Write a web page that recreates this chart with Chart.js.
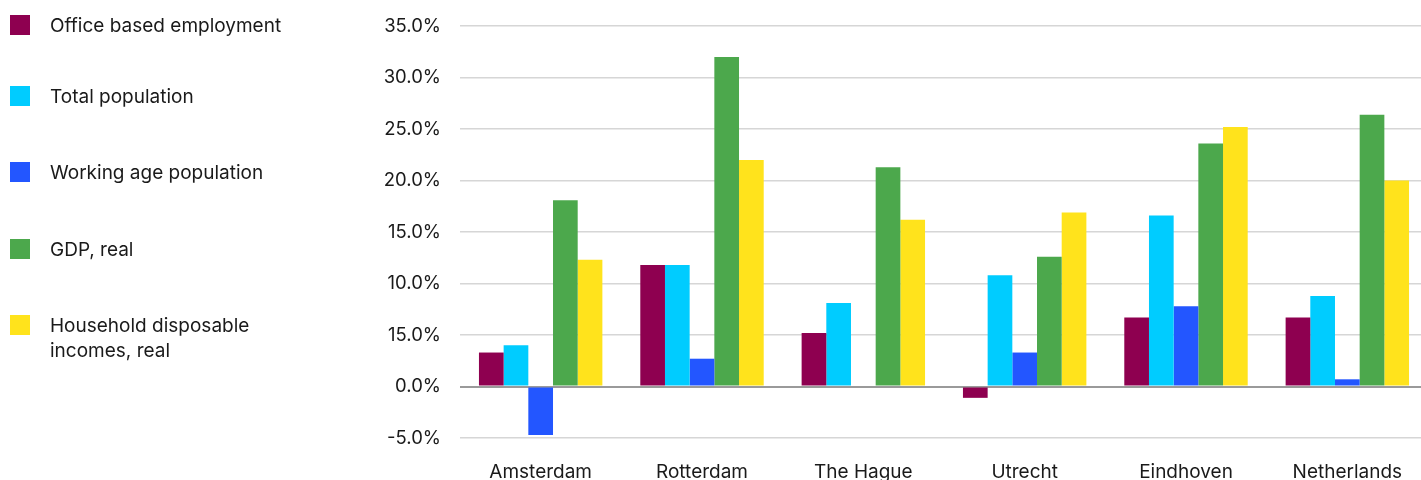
<!DOCTYPE html>
<html>
<head>
<meta charset="utf-8">
<script src="https://cdn.jsdelivr.net/npm/chart.js@4.4.0/dist/chart.umd.min.js"></script>
<style>
  html, body { margin: 0; padding: 0; background: #ffffff; overflow: hidden; }
  body { width: 1421px; height: 480px; position: relative; font-family: Inter, "Noto Sans", sans-serif; }
  #wrap { position: absolute; left: 0; top: -4px; width: 1428px; height: 484px; }
  #legend { position: absolute; left: 0; top: 0; width: 330px; height: 480px; }
  .item { position: absolute; left: 10px; font-size: 19px; line-height: 25px; color: #1a1a1a; }
  .swatch { position: absolute; left: 0; top: 0; width: 20px; height: 20px; }
  .label { position: absolute; left: 40px; top: -2px; white-space: nowrap; }
</style>
</head>
<body>
<div id="wrap"><canvas id="chart"></canvas></div>
<div id="legend"></div>
<script>
const categories = ['Amsterdam', 'Rotterdam', 'The Hague', 'Utrecht', 'Eindhoven', 'Netherlands'];

const seriesNames = [
  'Office based employment',
  'Total population',
  'Working age population',
  'GDP, real',
  'Household disposable incomes, real',
];
const legendLines = [
  ['Office based employment'],
  ['Total population'],
  ['Working age population'],
  ['GDP, real'],
  ['Household disposable', 'incomes, real'],
];
const seriesColors = ['#8e0050', '#00ccff', '#2356ff', '#4ca84c', '#ffe31c'];

const officeEmployment = [3.3, 11.8, 5.2, -1.1, 6.7, 6.7];
const totalPopulation = [4.0, 11.8, 8.1, 10.8, 16.6, 8.8];
const workingAgePopulation = [-4.7, 2.7, 0, 3.3, 7.8, 0.7];
const gdpReal = [18.1, 32.0, 21.3, 12.6, 23.6, 26.4];
const householdIncomes = [12.3, 22.0, 16.2, 16.9, 25.2, 20.0];

const seriesValues = [officeEmployment, totalPopulation, workingAgePopulation, gdpReal, householdIncomes];

// tick labels as printed in the source (including the odd one at 5%)
const tickValues = [-5, 0, 5, 10, 15, 20, 25, 30, 35];
const tickLabels = ['-5.0%', '0.0%', '15.0%', '10.0%', '15.0%', '20.0%', '25.0%', '30.0%', '35.0%'];

const legendTops = [15, 86, 162, 239, 315];

const legendBox = document.getElementById('legend');
legendLines.forEach((lines, i) => {
  const item = document.createElement('div');
  item.className = 'item';
  item.style.top = legendTops[i] + 'px';
  const sw = document.createElement('div');
  sw.className = 'swatch';
  sw.style.background = seriesColors[i];
  const lab = document.createElement('div');
  lab.className = 'label';
  lab.innerHTML = lines.join('<br>');
  item.appendChild(sw);
  item.appendChild(lab);
  legendBox.appendChild(item);
});

new Chart(document.getElementById('chart'), {
  type: 'bar',
  data: {
    labels: categories,
    datasets: seriesNames.map((name, i) => ({
      label: name,
      data: seriesValues[i],
      backgroundColor: seriesColors[i],
      borderWidth: 0,
      categoryPercentage: 0.765,
      barPercentage: 1.0,
    })),
  },
  options: {
    responsive: true,
    maintainAspectRatio: false,
    animation: false,
    layout: { padding: { top: 21, right: 0, left: 0, bottom: 0 } },
    plugins: {
      legend: { display: false },
      tooltip: { enabled: false },
    },
    scales: {
      x: {
        grid: { display: false },
        border: { display: false },
        ticks: {
          color: '#1a1a1a',
          font: { family: 'Inter', size: 19 },
          padding: 15,
          maxRotation: 0,
        },
        afterFit(scale) { scale.height = 42; },
      },
      y: {
        min: -5,
        max: 35,
        border: { display: false },
        afterBuildTicks(scale) {
          scale.ticks = tickValues.map((v) => ({ value: v }));
        },
        afterFit(scale) { scale.width = 460; },
        grid: {
          drawTicks: false,
          color: (ctx) => (ctx.tick && ctx.tick.value === 0 ? '#9a9a9a' : '#d6d6d6'),
          lineWidth: (ctx) => (ctx.tick && ctx.tick.value === 0 ? 2 : 1.5),
        },
        ticks: {
          color: '#1a1a1a',
          font: { family: 'Inter', size: 18.5 },
          padding: 19,
          callback(value) {
            const idx = tickValues.indexOf(value);
            return idx >= 0 ? tickLabels[idx] : '';
          },
        },
      },
    },
  },
});
</script>
</body>
</html>
